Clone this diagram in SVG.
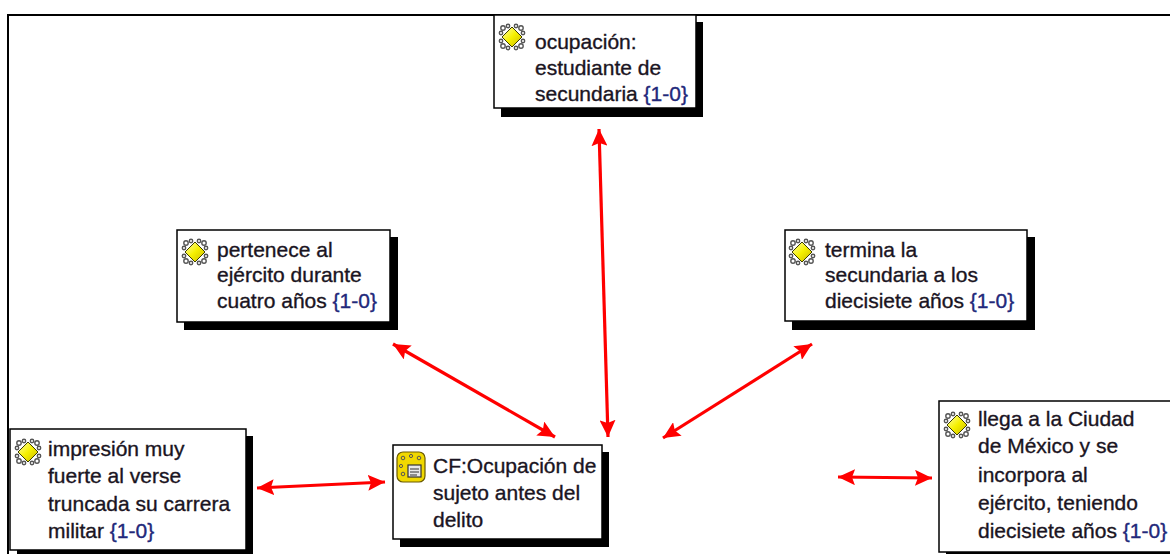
<svg xmlns="http://www.w3.org/2000/svg" xmlns:xlink="http://www.w3.org/1999/xlink" width="1170" height="554" viewBox="0 0 1170 554">
<style>
.box{fill:#fff;stroke:#000;stroke-width:1.5}
.shadow{fill:#000}
.t{font-family:"Liberation Sans",Arial,sans-serif;font-size:21px;fill:#1a1422;stroke:#1a1422;stroke-width:0.35}
.n{fill:#22287a;stroke:#22287a}
.con{stroke:#ff0000;stroke-width:3.2;fill:none;marker-start:url(#ah);marker-end:url(#ah)}
</style>
<defs>
<marker id="ah" markerUnits="userSpaceOnUse" markerWidth="18" markerHeight="16" refX="17" refY="8" orient="auto-start-reverse" viewBox="0 0 18 16">
<path d="M0,0 L17,8 L0,16 L3,8 Z" fill="#ff0000"/>
</marker>
<linearGradient id="yg" x1="0" y1="0" x2="1" y2="1">
<stop offset="0" stop-color="#ffffb0"/>
<stop offset="0.5" stop-color="#f5f000"/>
<stop offset="1" stop-color="#c8b800"/>
</linearGradient>
<g id="qicon">
<g fill="none" stroke="#555" stroke-width="1.4">
<circle cx="-9" cy="-9" r="2.2"/><circle cx="9" cy="-9" r="2.2"/><circle cx="-9" cy="9" r="2.2"/><circle cx="9" cy="9" r="2.2"/>
<circle cx="-4" cy="-11" r="1.7"/><circle cx="4" cy="-11" r="1.7"/><circle cx="-4" cy="11" r="1.7"/><circle cx="4" cy="11" r="1.7"/>
<circle cx="-11" cy="-4" r="1.7"/><circle cx="11" cy="-4" r="1.7"/><circle cx="-11" cy="4" r="1.7"/><circle cx="11" cy="4" r="1.7"/>
</g>
<path d="M0,-10 L10,0 L0,10 L-10,0 Z" fill="url(#yg)" stroke="#3a3a00" stroke-width="1"/>
</g>
<g id="cficon">
<rect x="-14" y="-15" width="28" height="30" rx="6" fill="#f0d800" stroke="#6a5a00" stroke-width="1.2"/>
<g fill="none" stroke="#555" stroke-width="1">
<circle cx="-8" cy="-9" r="1.8"/><circle cx="0" cy="-11" r="1.6"/><circle cx="8" cy="-9" r="1.8"/>
<circle cx="-10" cy="-1" r="1.6"/><circle cx="-8" cy="7" r="1.8"/>
</g>
<rect x="-3" y="-2" width="13" height="12" fill="#e8e8e8" stroke="#333" stroke-width="1.2"/>
<path d="M-1,2 H8 M-1,5 H8 M-1,8 H6" stroke="#333" stroke-width="1"/>
</g>
</defs>
<rect x="0" y="0" width="1170" height="554" fill="#fff"/>
<g id="frame" stroke="#000" stroke-width="2" fill="none">
<path d="M8,554 V15 H1170"/>
</g>
<g id="connectors">
<line class="con" x1="599" y1="129" x2="608" y2="437"/>
<line class="con" x1="393" y1="344" x2="555" y2="437"/>
<line class="con" x1="812" y1="344" x2="663" y2="438"/>
<line class="con" x1="257" y1="488" x2="385" y2="482"/>
<line class="con" x1="838" y1="477" x2="932" y2="478"/>
</g>
<g id="n-ocupacion">
<rect class="shadow" x="501" y="22" width="202" height="95"/>
<rect class="box" x="494" y="15" width="202" height="93"/>
<use xlink:href="#qicon" x="512" y="37"/>
<text class="t"><tspan x="535" y="49">ocupación:</tspan><tspan x="535" y="75">estudiante de</tspan><tspan x="535" y="101">secundaria <tspan class="n">{1-0}</tspan></tspan></text>
</g>
<g id="n-pertenece">
<rect class="shadow" x="184" y="237" width="214" height="93"/>
<rect class="box" x="177" y="230" width="213" height="92"/>
<use xlink:href="#qicon" x="195" y="252"/>
<text class="t"><tspan x="217" y="257">pertenece al</tspan><tspan x="217" y="282">ejército durante</tspan><tspan x="217" y="308">cuatro años <tspan class="n">{1-0}</tspan></tspan></text>
</g>
<g id="n-termina">
<rect class="shadow" x="792" y="237" width="243" height="93"/>
<rect class="box" x="785" y="230" width="242" height="91"/>
<use xlink:href="#qicon" x="802" y="252"/>
<text class="t"><tspan x="825" y="257">termina la</tspan><tspan x="825" y="282">secundaria a los</tspan><tspan x="825" y="308">diecisiete años <tspan class="n">{1-0}</tspan></tspan></text>
</g>
<g id="n-impresion">
<rect class="shadow" x="17" y="436" width="236" height="125"/>
<rect class="box" x="10" y="429" width="236" height="121"/>
<use xlink:href="#qicon" x="28" y="452"/>
<text class="t"><tspan x="48" y="456">impresión muy</tspan><tspan x="48" y="483">fuerte al verse</tspan><tspan x="48" y="511">truncada su carrera</tspan><tspan x="48" y="538">militar <tspan class="n">{1-0}</tspan></tspan></text>
</g>
<g id="n-cf">
<rect class="shadow" x="400" y="452" width="209" height="95"/>
<rect class="box" x="393" y="445" width="209" height="94"/>
<use xlink:href="#cficon" x="411" y="467"/>
<text class="t"><tspan x="433" y="473">CF:Ocupación de</tspan><tspan x="433" y="500">sujeto antes del</tspan><tspan x="433" y="527">delito</tspan></text>
</g>
<g id="n-llega">
<rect class="shadow" x="946" y="408" width="240" height="160"/>
<rect class="box" x="939" y="401" width="240" height="151"/>
<use xlink:href="#qicon" x="957" y="425"/>
<text class="t"><tspan x="978" y="426">llega a la Ciudad</tspan><tspan x="978" y="453">de México y se</tspan><tspan x="978" y="482">incorpora al</tspan><tspan x="978" y="510">ejército, teniendo</tspan><tspan x="978" y="538">diecisiete años <tspan class="n">{1-0}</tspan></tspan></text>
</g>
</svg>
